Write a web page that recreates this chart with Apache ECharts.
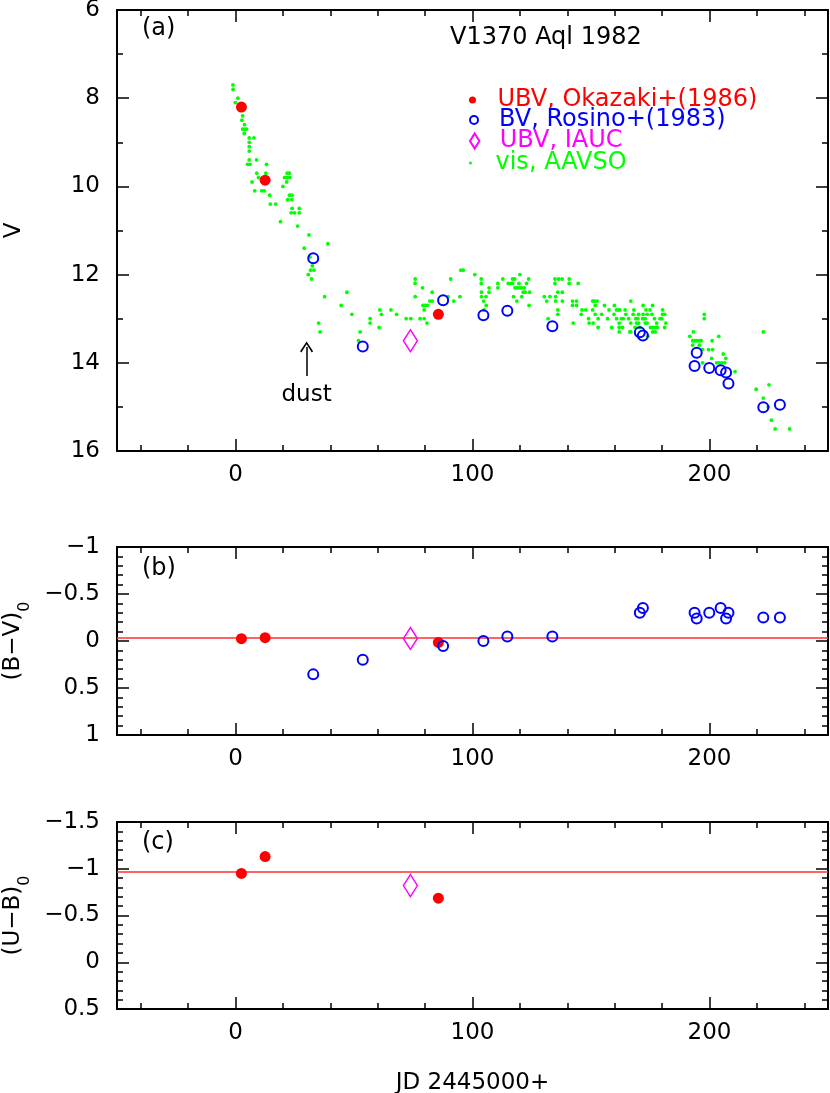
<!DOCTYPE html>
<html>
<head>
<meta charset="utf-8">
<script src="https://cdn.jsdelivr.net/npm/echarts@6/dist/echarts.min.js"></script>
<style>
html, body { margin: 0; padding: 0; background: #fff; }
#chart { width: 830px; height: 1093px; }
</style>
</head>
<body>
<div id="chart"></div>
<script>
// Okazaki+(1986), UBV photometry (red dots)
const okazakiDay = [2.5, 12.5, 85.6]
const okazakiV = [8.2, 9.86, 12.9]
const okazakiBV = [-0.025, -0.035, 0.015]
const okazakiUB = [-0.95, -1.13, -0.685]

// Rosino+(1983), BV (blue circles)
const rosinoDay = [32.8, 53.7, 87.6, 104.6, 114.7, 133.7, 170.6, 171.9, 193.7, 194.6, 199.9, 204.7, 207.0, 208.0, 222.7, 229.7]
const rosinoV = [11.63, 13.63, 12.58, 12.92, 12.82, 13.17, 13.31, 13.38, 14.07, 13.77, 14.12, 14.17, 14.22, 14.47, 15.01, 14.95]
const rosinoBV = [0.355, 0.20, 0.054, 0.0, -0.049, -0.049, -0.30, -0.35, -0.30, -0.24, -0.30, -0.35, -0.24, -0.30, -0.25, -0.25]

// IAUC (magenta diamond)
const iaucDay = [73.8]
const iaucV = [13.5]
const iaucBV = [-0.027]
const iaucUB = [-0.82]

// AAVSO visual estimates [day, V]
const visAAVSO = [
  [-1.1, 7.7], [-1.0, 7.8], [1.0, 8.0], [-0.1, 8.1], [3.0, 8.4], [2.7, 8.5], [3.8, 8.6],
  [3.0, 8.7], [3.8, 8.7], [4.7, 8.7], [3.7, 8.8], [5.8, 8.9], [7.8, 8.9], [5.8, 9.0],
  [5.8, 9.1], [5.8, 9.2], [5.8, 9.4], [8.9, 9.4], [5.1, 9.5], [6.1, 9.5], [13.1, 9.5],
  [9.0, 9.7], [12.8, 9.7], [9.7, 9.8], [7.0, 9.9], [8.1, 10.1], [11.1, 10.1], [12.1, 10.1],
  [14.4, 10.2], [14.7, 10.4], [17.0, 10.4], [19.0, 10.8], [21.8, 9.7], [22.7, 9.7],
  [20.7, 9.8], [21.8, 9.8], [23.0, 9.8], [21.6, 9.9], [20.0, 10.0], [22.8, 10.2],
  [23.8, 10.2], [22.0, 10.3], [23.8, 10.3], [23.9, 10.5], [26.9, 10.5], [23.5, 10.6],
  [24.9, 10.6], [26.9, 10.6], [26.2, 10.9], [31.0, 11.1], [29.0, 11.4], [39.0, 11.3],
  [31.4, 11.6], [32.4, 11.8], [31.7, 11.9], [33.1, 11.9], [30.7, 12.0], [32.1, 12.1],
  [37.6, 12.5], [47.0, 12.4], [44.6, 12.7], [49.1, 12.9], [35.1, 13.1], [35.7, 13.3],
  [60.9, 12.8], [65.6, 12.8], [68.0, 12.9], [61.6, 12.9], [56.8, 13.0], [56.8, 13.1],
  [60.6, 13.2], [52.6, 13.3], [51.9, 13.5],
  [72.0, 13.0], [74.0, 13.0], [75.8, 12.1], [75.8, 12.2], [78.9, 12.3], [75.8, 12.5],
  [83.0, 12.4], [82.0, 12.6], [83.0, 12.6], [79.1, 12.7], [80.0, 12.7], [80.9, 12.7],
  [79.6, 12.8], [77.9, 13.0], [79.6, 13.0], [80.8, 13.1], [90.8, 12.1], [89.7, 12.5],
  [92.1, 12.6], [94.7, 12.5], [95.1, 11.9], [96.1, 11.9], [101.0, 12.0], [103.7, 12.1],
  [103.7, 12.2], [107.0, 12.3], [107.0, 12.4], [103.8, 12.4], [103.8, 12.5], [105.7, 12.5],
  [104.7, 12.6], [105.8, 12.7], [104.9, 12.8], [110.7, 12.2], [110.7, 12.3], [112.8, 12.1],
  [115.1, 12.2], [116.1, 12.2], [116.9, 12.2], [116.9, 12.1], [117.8, 12.1], [120.0, 12.0],
  [123.7, 12.1], [119.6, 12.2], [122.8, 12.2], [117.9, 12.3], [118.7, 12.3], [119.6, 12.3],
  [120.6, 12.3], [121.8, 12.3], [121.4, 12.4], [122.2, 12.4], [124.1, 12.4], [117.3, 12.5],
  [120.8, 12.5], [118.7, 12.6], [123.9, 12.7], [130.3, 12.5], [132.7, 12.5], [135.1, 12.5],
  [131.3, 12.6], [135.1, 12.6], [137.9, 12.6], [134.8, 12.1], [136.3, 12.1], [137.8, 12.1],
  [134.8, 12.2], [140.8, 12.1], [140.8, 12.2], [137.9, 12.4], [136.0, 12.4], [136.0, 12.8],
  [136.0, 12.9], [131.9, 13.0], [144.6, 12.2], [142.2, 12.6], [143.9, 12.6], [142.2, 12.7],
  [143.9, 12.7], [142.5, 13.1],
  [146.2, 12.8], [147.8, 12.8], [145.9, 12.9], [149.0, 13.0], [149.2, 13.1], [150.9, 13.1],
  [150.7, 12.6], [151.5, 12.6], [152.6, 12.6], [150.7, 12.8], [151.8, 12.7], [151.8, 12.9],
  [153.0, 13.0], [153.0, 13.2], [155.7, 12.7], [154.5, 12.9], [157.6, 12.8], [157.0, 13.0],
  [158.7, 13.2], [159.7, 12.9], [160.8, 12.8], [161.6, 12.8], [162.2, 12.8], [160.8, 13.0],
  [162.8, 13.0], [163.6, 13.0], [161.9, 13.1], [161.9, 13.2], [163.3, 13.2], [161.9, 13.3],
  [159.9, 12.7], [164.4, 12.8], [164.7, 12.9], [166.8, 12.6], [165.9, 13.0], [166.8, 13.1],
  [166.8, 13.3], [168.1, 12.8], [167.8, 12.9], [168.9, 13.0], [169.8, 13.0], [169.2, 13.1],
  [170.1, 13.1], [168.6, 13.2], [170.6, 13.2], [166.4, 13.3], [170.1, 12.9], [172.0, 12.9],
  [172.0, 12.7], [171.8, 13.0], [172.9, 13.0], [173.2, 12.8], [172.9, 13.1], [173.7, 13.1],
  [173.7, 12.9], [174.9, 12.8], [175.7, 12.9], [176.0, 12.7], [175.1, 13.2], [176.0, 13.2],
  [177.1, 13.2], [177.9, 13.2], [176.0, 13.3], [177.1, 13.3], [174.0, 13.4], [176.8, 13.0],
  [177.7, 13.1], [179.1, 13.0], [179.9, 13.0], [180.2, 12.8], [180.2, 12.9], [181.1, 12.9],
  [181.6, 13.1], [181.1, 13.2],
  [197.8, 12.9], [197.8, 13.0], [193.2, 13.3], [191.7, 13.4], [192.9, 13.5], [193.7, 13.5],
  [194.6, 13.5], [195.7, 13.5], [196.5, 13.5], [192.9, 13.6], [195.7, 13.6], [197.1, 13.7],
  [199.6, 13.7], [201.3, 13.7], [201.1, 13.5], [203.9, 13.4], [200.9, 13.9], [205.8, 13.8],
  [206.9, 13.9], [203.0, 14.0], [204.1, 14.0], [205.2, 14.0], [206.4, 14.0], [197.1, 14.0],
  [210.8, 14.2], [222.7, 13.3], [219.7, 14.6], [225.1, 14.5], [222.7, 14.8], [224.8, 15.0],
  [226.1, 15.3], [227.7, 15.5], [233.8, 15.5]
]

// reference colour levels and the "dust" arrow (day, V from, V to)
const bvRef = -0.03
const ubRef = -0.975
const dustArrow = [30.0, 14.3, 13.64]

const xMajor = [0, 100, 200]
const xMinor = [-40, -20, 20, 40, 60, 80, 120, 140, 160, 180, 220, 240]

const FONT = 'DejaVu Sans'
const BLACK = '#000'
const minus = v => String(v).replace('-', '\u2212')
const zip = (a, b) => a.map((v, i) => [v, b[i]])

const chart = echarts.init(document.getElementById('chart'))

const tickLine = { color: BLACK, width: 1.5 }
const boxLine = { show: true, onZero: false, lineStyle: { color: BLACK, width: 2 } }
const noLine = { show: false, onZero: false }

function makeXAxes(g, extra) {
  const base = { gridIndex: g, type: 'value', min: -50, max: 250, splitLine: { show: false } }
  const major = { inside: true, length: 12, customValues: xMajor, lineStyle: tickLine }
  const minor = { inside: true, length: 6, customValues: xMinor, lineStyle: tickLine }
  return [
    Object.assign({}, base, {
      position: 'bottom', axisLine: boxLine, axisTick: major,
      axisLabel: { customValues: xMajor, color: BLACK, fontSize: 23, fontFamily: FONT, margin: 13 }
    }, extra || {}),
    Object.assign({}, base, { position: 'bottom', axisLine: noLine, axisTick: minor, axisLabel: { show: false } }),
    Object.assign({}, base, { position: 'top', axisLine: boxLine, axisTick: major, axisLabel: { show: false } }),
    Object.assign({}, base, { position: 'top', axisLine: noLine, axisTick: minor, axisLabel: { show: false } })
  ]
}

function makeYAxes(g, min, max, interval, split, name, nameGap) {
  const base = {
    gridIndex: g, type: 'value', inverse: true, min, max, interval,
    splitLine: { show: false }, axisLine: boxLine,
    axisTick: { inside: true, length: 12, lineStyle: tickLine },
    minorTick: { show: true, splitNumber: split, length: 6, lineStyle: tickLine }
  }
  return [
    Object.assign({}, base, {
      position: 'left',
      axisLabel: { formatter: minus, color: BLACK, fontSize: 23, fontFamily: FONT, margin: 17 },
      name, nameLocation: 'middle', nameGap,
      nameTextStyle: {
        color: BLACK, fontSize: 23, fontFamily: FONT,
        rich: {
          m: { fontSize: 23, fontFamily: FONT, color: BLACK, padding: [0, 0, 9, 0], verticalAlign: 'bottom' },
          s: { fontSize: 16, fontFamily: FONT, color: BLACK, verticalAlign: 'bottom' }
        }
      }
    }),
    Object.assign({}, base, { position: 'right', axisLabel: { show: false } })
  ]
}

const xAxes = [].concat(
  makeXAxes(0),
  makeXAxes(1),
  makeXAxes(2, {
    name: 'JD 2445000+', nameLocation: 'middle', nameGap: 63,
    nameTextStyle: { color: BLACK, fontSize: 23, fontFamily: FONT }
  })
)
const yAxes = [].concat(
  makeYAxes(0, 6, 16, 2, 2, 'V', 91),
  makeYAxes(1, -1, 1, 0.5, 5, '{m|(B\u2212V)}{s|0}', 81),
  makeYAxes(2, -1.5, 0.5, 0.5, 5, '{m|(U\u2212B)}{s|0}', 81)
)

const okazakiStyle = { symbol: 'circle', symbolSize: 11, itemStyle: { color: '#ff0000', opacity: 1 } }
const rosinoStyle = { symbol: 'circle', symbolSize: 10, itemStyle: { color: 'rgba(0,0,0,0)', borderColor: '#0000ff', borderWidth: 2, opacity: 1 } }
const iaucStyle = { symbol: 'diamond', symbolSize: [14, 22], itemStyle: { color: 'rgba(0,0,0,0)', borderColor: '#ff00ff', borderWidth: 1.5, opacity: 1 } }

function scatter(name, g, data, style, extra) {
  return Object.assign({ type: 'scatter', name, xAxisIndex: g * 4, yAxisIndex: g * 2, data, silent: true, z: 3 }, style, extra || {})
}

const refLine = value => ({
  silent: true, symbol: ['none', 'none'], animation: false, z: 1,
  lineStyle: { color: '#ff3030', width: 1.5, type: 'solid', opacity: 1 },
  label: { show: false },
  data: [{ yAxis: value }]
})

const series = [
  scatter('vis, AAVSO', 0, visAAVSO, { symbol: 'circle', symbolSize: 3.8, itemStyle: { color: '#00ff00', opacity: 1 } }, {
    z: 2,
    markLine: {
      silent: true, animation: false,
      symbol: ['none', 'path://M0,9L5,0L10,9L9,10L5,2.5L1,10Z'], symbolSize: [13, 11],
      lineStyle: { color: BLACK, width: 1.5, type: 'solid', opacity: 1 },
      label: { show: true, position: 'start', formatter: 'dust', color: BLACK, fontSize: 23, fontFamily: FONT, distance: 8 },
      data: [[{ coord: [dustArrow[0], dustArrow[1]] }, { coord: [dustArrow[0], dustArrow[2]] }]]
    }
  }),
  scatter('BV, Rosino+(1983)', 0, zip(rosinoDay, rosinoV), rosinoStyle),
  scatter('UBV, Okazaki+(1986)', 0, zip(okazakiDay, okazakiV), okazakiStyle),
  scatter('UBV, IAUC', 0, zip(iaucDay, iaucV), iaucStyle),

  scatter('UBV, Okazaki+(1986)', 1, zip(okazakiDay, okazakiBV), okazakiStyle, { markLine: refLine(bvRef) }),
  scatter('BV, Rosino+(1983)', 1, zip(rosinoDay, rosinoBV), rosinoStyle),
  scatter('UBV, IAUC', 1, zip(iaucDay, iaucBV), iaucStyle),

  scatter('UBV, Okazaki+(1986)', 2, zip(okazakiDay, okazakiUB), okazakiStyle, { markLine: refLine(ubRef) }),
  scatter('UBV, IAUC', 2, zip(iaucDay, iaucUB), iaucStyle)
]

function legendRow(name, color, top, h, icon) {
  const item = { name, textStyle: { color } }
  if (icon) item.icon = icon
  return {
    left: 469, top, orient: 'horizontal', padding: 0, selectedMode: false,
    itemWidth: 40, itemHeight: h,
    textStyle: { fontSize: 24, fontFamily: FONT, color },
    data: [item]
  }
}

const labelText = { fontSize: 24, fontWeight: 'normal', fontFamily: FONT, color: BLACK }

chart.setOption({
  animation: false,
  backgroundColor: '#fff',
  grid: [
    { left: 117, right: 2, top: 10, height: 441, outerBoundsMode: 'none', containLabel: false },
    { left: 117, right: 2, top: 547, height: 188, outerBoundsMode: 'none', containLabel: false },
    { left: 117, right: 2, top: 822, height: 187, outerBoundsMode: 'none', containLabel: false }
  ],
  title: [
    { text: 'V1370 Aql 1982', left: 450, top: 26, padding: 0, textStyle: labelText },
    { text: '(a)', left: 142, top: 17, padding: 0, textStyle: labelText },
    { text: '(b)', left: 142, top: 557, padding: 0, textStyle: labelText },
    { text: '(c)', left: 142, top: 831, padding: 0, textStyle: labelText }
  ],
  legend: [
    legendRow('UBV, Okazaki+(1986)', '#ff0000', 88, 7),
    legendRow('BV, Rosino+(1983)', '#0000ff', 108, 8),
    legendRow('UBV, IAUC', '#ff00ff', 129, 15, 'path://M5,0L10,8L5,16L0,8Z'),
    legendRow('vis, AAVSO', '#00ff00', 151, 3)
  ],
  xAxis: xAxes,
  yAxis: yAxes,
  series
})
</script>
</body>
</html>
